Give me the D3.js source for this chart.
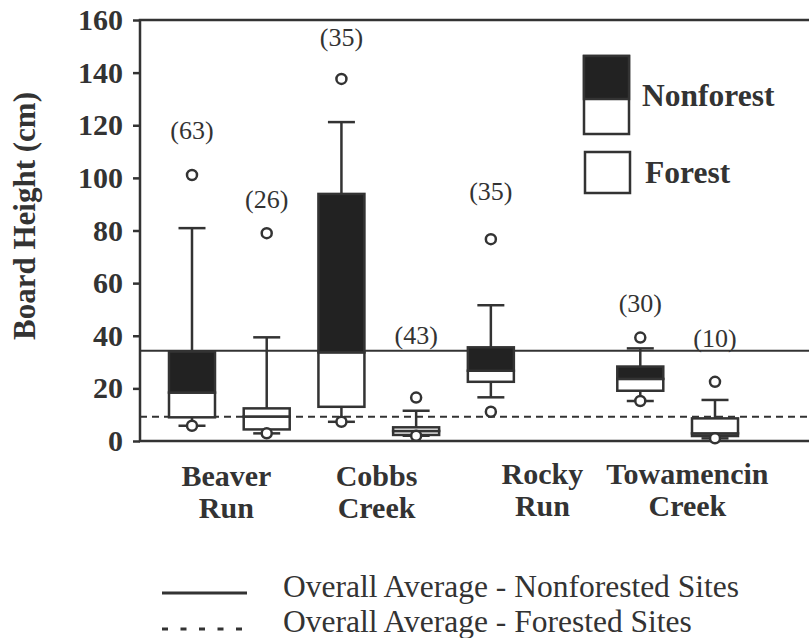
<!DOCTYPE html>
<html>
<head>
<meta charset="utf-8">
<script src="https://cdn.jsdelivr.net/npm/d3@7"></script>
<style>
  body { margin: 0; background: #fff; }
  text { font-family: "Liberation Serif", "Times New Roman", serif; fill: #333; }
</style>
</head>
<body>
<script>
// Define data
let sites = ['Beaver Run', 'Cobbs Creek', 'Rocky Run', 'Towamencin Creek'];
let types = ['Nonforest', 'Forest'];

// one entry per box drawn (Rocky Run has no forest box)
let boxSite   = ['Beaver Run', 'Beaver Run', 'Cobbs Creek', 'Cobbs Creek', 'Rocky Run', 'Towamencin Creek', 'Towamencin Creek'];
let boxType   = ['Nonforest', 'Forest', 'Nonforest', 'Forest', 'Nonforest', 'Nonforest', 'Forest'];
let q1        = [9.0, 4.4, 13.0, 2.3, 22.5, 19.1, 1.9];
let median    = [18.4, 9.3, 33.7, 3.8, 26.7, 23.6, 2.9];
let q3        = [34.0, 12.4, 93.9, 5.2, 35.6, 28.3, 8.6];
let whiskerLo = [5.8, 2.9, 7.3, 2.0, 16.6, 15.2, 1.0];
let whiskerHi = [80.9, 39.4, 121.2, 11.5, 51.6, 35.2, 15.6];
let outlierHi = [101.1, 79.0, 137.6, 16.5, 76.7, 39.3, 22.5];
let outlierLo = [5.8, 2.9, 7.3, 2.0, 11.1, 15.2, 1.0];
let sampleN   = [63, 26, 35, 43, 35, 30, 10];
let nLabelAt  = [117.6, 91.6, 153.2, 39.9, 94.4, 52.1, 38.8];

let yTicks = [0, 20, 40, 60, 80, 100, 120, 140, 160];
let avgNonforest = 34.3;
let avgForest = 9.2;

let width = 809,
    height = 638;

let margin = { top: 20, bottom: 197, left: 140, right: 0 };
let ink = '#333';

let svg = d3.select('body')
            .append('svg')
            .attr('width', width)
            .attr('height', height);

let yscale = d3.scaleLinear()
              .domain([0, 160])
              .range([height - margin.bottom, margin.top]);

let slots = d3.cross(sites, types, (s, t) => s + '|' + t);
let xscale = d3.scalePoint()
              .domain(slots)
              .range([192, 715]);

let boxW = 46, capW = 27;

// axis
let yaxis = svg.append('g')
              .attr('transform', `translate(${margin.left},0)`)
              .call(d3.axisLeft(yscale).tickValues(yTicks).tickSize(7).tickPadding(10))
yaxis.select('.domain').remove();
yaxis.selectAll('line').attr('stroke', ink).attr('stroke-width', 2.5);
yaxis.selectAll('text')
     .style('font-size', '30px')
     .style('font-weight', 'bold')
     .attr('fill', ink);

// frame: left, top, bottom
let y0 = yscale(0), yTop = yscale(160);
svg.append('path')
   .attr('d', `M${width},${yTop}H${margin.left}V${y0}H${width}`)
   .attr('fill', 'none')
   .attr('stroke', ink)
   .attr('stroke-width', 2.5);

// average lines
svg.append('line')
   .attr('x1', margin.left).attr('x2', width)
   .attr('y1', yscale(avgNonforest)).attr('y2', yscale(avgNonforest))
   .attr('stroke', ink).attr('stroke-width', 2);
svg.append('line')
   .attr('x1', margin.left).attr('x2', width)
   .attr('y1', yscale(avgForest)).attr('y2', yscale(avgForest))
   .attr('stroke', ink).attr('stroke-width', 2)
   .attr('stroke-dasharray', '7,5');

// boxes
let boxes = d3.range(boxSite.length).map(i => ({
  key: boxSite[i] + '|' + boxType[i], type: boxType[i],
  q1: q1[i], med: median[i], q3: q3[i],
  lo: whiskerLo[i], hi: whiskerHi[i],
  oHi: outlierHi[i], oLo: outlierLo[i],
  n: sampleN[i], ny: nLabelAt[i]
}));

let g = svg.selectAll('.box')
           .data(boxes)
           .enter()
           .append('g')
           .attr('class', 'box')
           .attr('transform', d => `translate(${xscale(d.key)},0)`);

// whiskers
g.append('line')
 .attr('y1', d => yscale(d.q3)).attr('y2', d => yscale(d.hi))
 .attr('stroke', ink).attr('stroke-width', 2.5);
g.append('line')
 .attr('y1', d => yscale(d.q1)).attr('y2', d => yscale(d.lo))
 .attr('stroke', ink).attr('stroke-width', 2.5);
g.append('line')
 .attr('x1', -capW / 2).attr('x2', capW / 2)
 .attr('y1', d => yscale(d.hi)).attr('y2', d => yscale(d.hi))
 .attr('stroke', ink).attr('stroke-width', 2.5);
g.append('line')
 .attr('x1', -capW / 2).attr('x2', capW / 2)
 .attr('y1', d => yscale(d.lo)).attr('y2', d => yscale(d.lo))
 .attr('stroke', ink).attr('stroke-width', 2.5);

// lower half (white) and upper half (black for nonforest)
g.append('rect')
 .attr('x', -boxW / 2).attr('width', boxW)
 .attr('y', d => yscale(d.med))
 .attr('height', d => yscale(d.q1) - yscale(d.med))
 .attr('fill', '#fff').attr('stroke', ink).attr('stroke-width', 2.5);
g.append('rect')
 .attr('x', -boxW / 2).attr('width', boxW)
 .attr('y', d => yscale(d.q3))
 .attr('height', d => yscale(d.med) - yscale(d.q3))
 .attr('fill', d => d.type === 'Nonforest' ? '#222' : '#fff')
 .attr('stroke', ink).attr('stroke-width', 2.5);

// outliers
g.append('circle')
 .attr('cy', d => yscale(d.oHi)).attr('r', 5)
 .attr('fill', '#fff').attr('stroke', ink).attr('stroke-width', 2.5);
g.append('circle')
 .attr('cy', d => yscale(d.oLo)).attr('r', 5)
 .attr('fill', '#fff').attr('stroke', ink).attr('stroke-width', 2.5);

// sample sizes
g.append('text')
 .text(d => `(${d.n})`)
 .attr('y', d => yscale(d.ny))
 .attr('dy', '0.3em')
 .attr('text-anchor', 'middle')
 .style('font-size', '26px');

// site labels
let step = xscale.step();
let labelShift = [0.46, 0.47, 0.69, 0.63];
let labelTop = [486, 486, 484, 484];
sites.forEach((s, i) => {
  let words = s.split(' ');
  let t = svg.append('text')
     .attr('text-anchor', 'middle')
     .style('font-size', '30px')
     .style('font-weight', 'bold');
  words.forEach((w, j) => {
    t.append('tspan')
     .attr('x', xscale(s + '|Nonforest') + labelShift[i] * step)
     .attr('y', labelTop[i] + j * 32)
     .text(w);
  });
});

// axis title
svg.append('text')
  .text('Board Height (cm)')
  .attr('transform', 'translate(35,216) rotate(-90)')
  .attr('text-anchor', 'middle')
  .style('font-size', '31px')
  .style('font-weight', 'bold');

// legend (boxes)
let lg = svg.append('g');
lg.append('rect').attr('x', 584).attr('y', 56).attr('width', 45).attr('height', 78)
  .attr('fill', '#fff').attr('stroke', ink).attr('stroke-width', 2.5);
lg.append('rect').attr('x', 584).attr('y', 56).attr('width', 45).attr('height', 43)
  .attr('fill', '#222').attr('stroke', ink).attr('stroke-width', 2.5);
lg.append('rect').attr('x', 585).attr('y', 152).attr('width', 45).attr('height', 41)
  .attr('fill', '#fff').attr('stroke', ink).attr('stroke-width', 2.5);
lg.append('text').text(types[0]).attr('x', 642).attr('y', 106)
  .style('font-size', '31.5px').style('font-weight', 'bold');
lg.append('text').text(types[1]).attr('x', 645).attr('y', 183)
  .style('font-size', '31.5px').style('font-weight', 'bold');

// legend (lines)
let ll = svg.append('g');
ll.append('line').attr('x1', 162).attr('x2', 247).attr('y1', 593).attr('y2', 593)
  .attr('stroke', ink).attr('stroke-width', 3);
ll.append('line').attr('x1', 162).attr('x2', 247).attr('y1', 629).attr('y2', 629)
  .attr('stroke', ink).attr('stroke-width', 3).attr('stroke-dasharray', '6,12.5');
ll.append('text').text('Overall Average - Nonforested Sites')
  .attr('x', 283).attr('y', 597).style('font-size', '31.5px');
ll.append('text').text('Overall Average - Forested Sites')
  .attr('x', 283).attr('y', 632).style('font-size', '31.5px');
</script>
</body>
</html>
